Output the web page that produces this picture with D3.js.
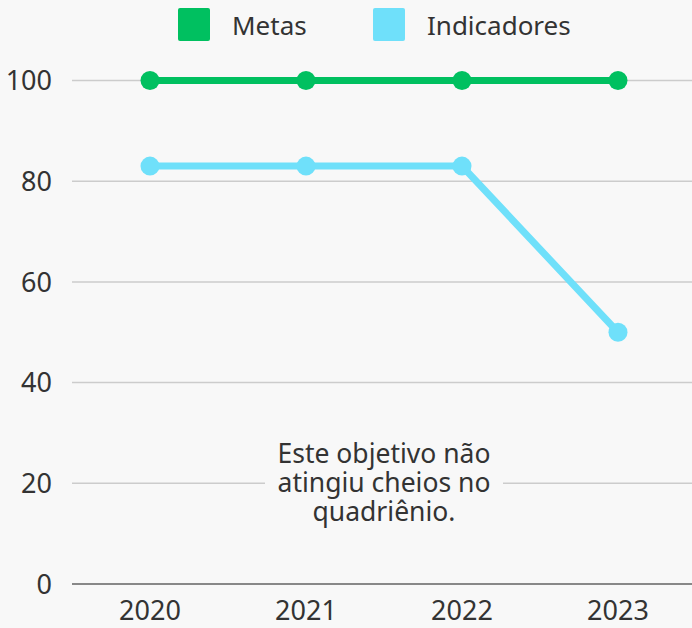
<!DOCTYPE html>
<html>
<head>
<meta charset="utf-8">
<script src="https://cdn.jsdelivr.net/npm/d3@7"></script>
<style>
  html, body { margin: 0; padding: 0; background: #f8f8f8; }
  svg { display: block; font-family: "Noto Sans", sans-serif; }
</style>
</head>
<body>
<svg id="chart" width="692" height="628"></svg>
<script>
const YEARS = ['2020', '2021', '2022', '2023']
const METAS = [100, 100, 100, 100]
const INDICADORES = [83, 83, 83, 50]
const Y_TICKS = [0, 20, 40, 60, 80, 100]
const NOTE = ['Este objetivo não', 'atingiu cheios no', 'quadriênio.']

const SERIES = [
  { name: 'Metas', values: METAS, color: '#00c060' },
  { name: 'Indicadores', values: INDICADORES, color: '#6fe0fa' }
]

const textColor = '#333'
const bg = '#f8f8f8'

const svg = d3.select('#chart')
svg.append('rect').attr('width', 692).attr('height', 628).attr('fill', bg)

const x = d3.scalePoint().domain(YEARS).range([72, 696]).padding(0.5)
const y = d3.scaleLinear().domain([0, 100]).range([584, 80.5])

// grid
const grid = svg.append('g')
grid.selectAll('line')
  .data(Y_TICKS)
  .join('line')
  .attr('x1', 72).attr('x2', 692)
  .attr('y1', d => y(d)).attr('y2', d => y(d))
  .attr('stroke', d => d === 0 ? '#888' : '#ccc')
  .attr('stroke-width', d => d === 0 ? 2 : 1.5)

// y labels
svg.append('g').selectAll('text')
  .data(Y_TICKS)
  .join('text')
  .attr('x', 52).attr('y', d => y(d))
  .attr('dy', '0.36em')
  .attr('text-anchor', 'end')
  .attr('font-size', 27)
  .attr('fill', textColor)
  .text(d => d)

// x labels
svg.append('g').selectAll('text')
  .data(YEARS)
  .join('text')
  .attr('x', d => x(d)).attr('y', 620)
  .attr('text-anchor', 'middle')
  .attr('font-size', 27)
  .attr('fill', textColor)
  .text(d => d)

// annotation, centered between 2021 and 2022
const noteX = (x('2021') + x('2022')) / 2
const note = svg.append('g')
note.append('rect')
  .attr('x', noteX - 119).attr('y', 436)
  .attr('width', 238).attr('height', 94)
  .attr('fill', bg)
note.append('text')
  .attr('text-anchor', 'middle')
  .attr('font-size', 26.5)
  .attr('fill', textColor)
  .selectAll('tspan')
  .data(NOTE)
  .join('tspan')
  .attr('x', noteX)
  .attr('y', (d, i) => 463 + i * 29)
  .text(d => d)

// lines + markers
const line = d3.line()
  .x((d, i) => x(YEARS[i]))
  .y(d => y(d))

SERIES.forEach(s => {
  const g = svg.append('g')
  g.append('path')
    .attr('d', line(s.values))
    .attr('fill', 'none')
    .attr('stroke', s.color)
    .attr('stroke-width', 7)
  g.selectAll('circle')
    .data(s.values)
    .join('circle')
    .attr('cx', (d, i) => x(YEARS[i]))
    .attr('cy', d => y(d))
    .attr('r', 9.5)
    .attr('fill', s.color)
})

// legend
const legendX = [178, 373]
const legend = svg.append('g')
  .selectAll('g')
  .data(SERIES)
  .join('g')
  .attr('transform', (d, i) => `translate(${legendX[i]},8)`)
legend.append('rect')
  .attr('width', 32).attr('height', 33).attr('rx', 2)
  .attr('fill', d => d.color)
legend.append('text')
  .attr('x', 54).attr('y', 27)
  .attr('font-size', 26)
  .attr('fill', textColor)
  .text(d => d.name)
</script>
</body>
</html>
